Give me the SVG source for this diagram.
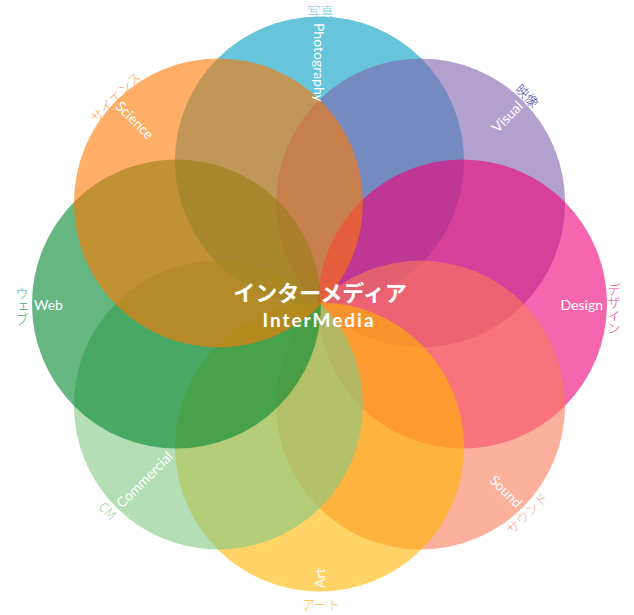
<svg xmlns="http://www.w3.org/2000/svg" width="634" height="615" viewBox="0 0 634 615">
<style>
.c{fill-opacity:0.6;stroke:none}
.in{font-family:Lato,"Noto Sans","Liberation Sans",sans-serif;font-size:14px;fill:#fff}
.jp{font-family:"Noto Sans CJK JP","Noto Sans",sans-serif;font-size:13px;font-weight:300}
.title{font-family:"Noto Sans CJK JP","Noto Sans",sans-serif;font-weight:700;fill:#fff;text-anchor:middle}
</style>
<rect width="634" height="615" fill="#fff"/>
<g id="circles">
<g id="photography"><circle class="c" cx="319.5" cy="161" r="144.5" fill="#009ec1"/></g>
<g id="visual"><circle class="c" cx="420.6" cy="202.9" r="144.5" fill="#7f62af"/></g>
<g id="design"><circle class="c" cx="462.5" cy="304" r="144.5" fill="#ee0078"/></g>
<g id="sound"><circle class="c" cx="420.6" cy="405.1" r="144.5" fill="#fc7b5a"/></g>
<g id="art"><circle class="c" cx="319.5" cy="447" r="144.5" fill="#ffb600"/></g>
<g id="commercial"><circle class="c" cx="218.4" cy="405.1" r="144.5" fill="#82ca85"/></g>
<g id="web"><circle class="c" cx="176.5" cy="304" r="144.5" fill="#00852f"/></g>
<g id="science"><circle class="c" cx="218.4" cy="202.9" r="144.5" fill="#fd7800"/></g>
</g>
<g id="connectors"></g>
<g id="labels">
<g id="photography-label">
<text class="in" transform="translate(319.5,23) rotate(90)" dy="0.38em">Photography</text>
<text class="jp" x="320.5" y="15.5" text-anchor="middle" fill="#6ccbe0">写真</text>
</g>
<g id="visual-label">
<text class="in" transform="translate(520,103.5) rotate(-45)" dy="0.38em" text-anchor="end">Visual</text>
<text class="jp" transform="translate(527,96) rotate(45)" dy="0.35em" text-anchor="middle" fill="#4a3fa8">映像</text>
</g>
<g id="design-label">
<text class="in" x="603" y="305" dy="0.38em" text-anchor="end">Design</text>
<text class="jp" x="614" y="309" writing-mode="vertical-rl" text-anchor="middle" fill="#e8479b">デザイン</text>
</g>
<g id="sound-label">
<text class="in" transform="translate(520,505) rotate(45)" dy="0.38em" text-anchor="end">Sound</text>
<text class="jp" transform="translate(527.5,513.5) rotate(-45)" dy="0.35em" text-anchor="middle" fill="#f5a38e">サウンド</text>
</g>
<g id="art-label">
<text class="in" transform="translate(319.5,588) rotate(-90)" dy="0.38em">Art</text>
<text class="jp" x="321" y="609" text-anchor="middle" fill="#f7c24a">アート</text>
</g>
<g id="commercial-label">
<text class="in" transform="translate(118.5,505) rotate(-45)" dy="0.38em">Commercial</text>
<text class="jp" transform="translate(107.5,511) rotate(45)" dy="0.35em" text-anchor="middle" fill="#9fd6a3">CM</text>
</g>
<g id="web-label">
<text class="in" x="34" y="305" dy="0.38em">Web</text>
<text class="jp" x="22" y="306" writing-mode="vertical-rl" text-anchor="middle" fill="#4aa56f">ウェブ</text>
</g>
<g id="science-label">
<text class="in" transform="translate(118.5,103.5) rotate(45)" dy="0.38em">Science</text>
<text class="jp" transform="translate(116,97.5) rotate(-45)" dy="0.35em" text-anchor="middle" fill="#f7a255">サイエンス</text>
</g>
</g>
<g id="center">
<text class="title" x="320" y="301" font-size="22">インターメディア</text>
<text class="title" x="319" y="327" font-size="19" letter-spacing="2" style="font-family:Lato,'Noto Sans',sans-serif">InterMedia</text>
</g>
</svg>
